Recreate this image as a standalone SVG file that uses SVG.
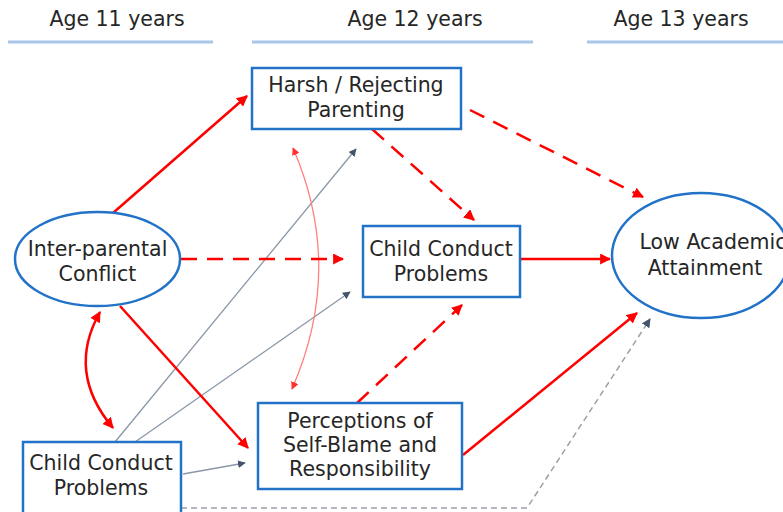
<svg xmlns="http://www.w3.org/2000/svg" width="783" height="512" viewBox="0 0 783 512">
<style>
text{font-family:"DejaVu Sans","Noto Sans",sans-serif;font-size:20.5px;fill:#262626;text-anchor:middle}
.node{fill:#fff;stroke:#2273c8;stroke-width:2.5}
.hdr{stroke:#a9c6ea;stroke-width:3}
.red{fill:none;stroke:#ff0000;stroke-width:2.5}
.rdash{fill:none;stroke:#ff0000;stroke-width:2.5;stroke-dasharray:16 10}
.pink{fill:none;stroke:#ff8080;stroke-width:1.3}
.grey{fill:none;stroke:#8a97a8;stroke-width:1.3}
.gdash{fill:none;stroke:#9aa1ab;stroke-width:1.5;stroke-dasharray:6 4}
</style>
<defs>
<marker id="ar" viewBox="0 0 10 10" refX="9" refY="5" markerWidth="4.4" markerHeight="4.4" orient="auto-start-reverse" markerUnits="strokeWidth"><path d="M0,0L10,5L0,10z" fill="#ff0000"/></marker>
<marker id="ap" viewBox="0 0 10 10" refX="9" refY="5" markerWidth="6" markerHeight="6" orient="auto-start-reverse" markerUnits="strokeWidth"><path d="M0,0L10,5L0,10z" fill="#ff3030"/></marker>
<marker id="ag" viewBox="0 0 10 10" refX="9" refY="5" markerWidth="6" markerHeight="6" orient="auto" markerUnits="strokeWidth"><path d="M0,0L10,5L0,10z" fill="#44546a"/></marker>
</defs>
<g id="headers">
<text x="117" y="26">Age 11 years</text>
<line class="hdr" x1="8" y1="42" x2="213" y2="42"/>
<text x="415" y="26">Age 12 years</text>
<line class="hdr" x1="252" y1="42" x2="533" y2="42"/>
<text x="681" y="26">Age 13 years</text>
<line class="hdr" x1="587" y1="42" x2="783" y2="42"/>
</g>
<g id="connectors">
<path class="grey" d="M115,442 L356,149" marker-end="url(#ag)"/>
<path class="grey" d="M135,442 L350,292" marker-end="url(#ag)"/>
<path class="grey" d="M183,474 L245,463" marker-end="url(#ag)"/>
<path class="gdash" d="M181,508 L527,508 L650,319" marker-end="url(#ag)"/>
<path class="pink" d="M293,148 Q345,268 292,389" marker-start="url(#ap)" marker-end="url(#ap)"/>
<path class="red" d="M113,213 L247,96" marker-end="url(#ar)"/>
<path class="rdash" d="M181,259 L343,259" marker-end="url(#ar)"/>
<path class="red" d="M120,306 L248,448" marker-end="url(#ar)"/>
<path class="red" d="M100,312 Q66,372 113,428" marker-start="url(#ar)" marker-end="url(#ar)"/>
<path class="rdash" d="M372,129 L474,220" marker-end="url(#ar)"/>
<path class="rdash" d="M470,110 L643,197" marker-end="url(#ar)"/>
<path class="red" d="M520,259 L610,259" marker-end="url(#ar)"/>
<path class="rdash" d="M357,403 L462,305" marker-end="url(#ar)"/>
<path class="red" d="M463,455 L637,313" marker-end="url(#ar)"/>
</g>
<g id="harsh">
<rect class="node" x="252" y="68" width="209" height="61"/>
<text x="356" y="92">Harsh / Rejecting</text>
<text x="356" y="117">Parenting</text>
</g>
<g id="ccp12">
<rect class="node" x="363" y="226" width="157" height="71"/>
<text x="441" y="256">Child Conduct</text>
<text x="441" y="281">Problems</text>
</g>
<g id="lowacad">
<ellipse class="node" cx="701" cy="255.5" rx="89" ry="62.5"/>
<text x="713" y="249">Low Academic</text>
<text x="705" y="275">Attainment</text>
</g>
<g id="ipc">
<ellipse class="node" cx="97.5" cy="259" rx="82.5" ry="47"/>
<text x="97.5" y="256">Inter-parental</text>
<text x="97.5" y="281">Conflict</text>
</g>
<g id="ccp11">
<rect class="node" x="23" y="442" width="158" height="80"/>
<text x="101" y="470">Child Conduct</text>
<text x="101" y="495">Problems</text>
</g>
<g id="perceptions">
<rect class="node" x="258" y="403" width="204" height="86"/>
<text x="360" y="428">Perceptions of</text>
<text x="360" y="452">Self-Blame and</text>
<text x="360" y="476">Responsibility</text>
</g>
</svg>
